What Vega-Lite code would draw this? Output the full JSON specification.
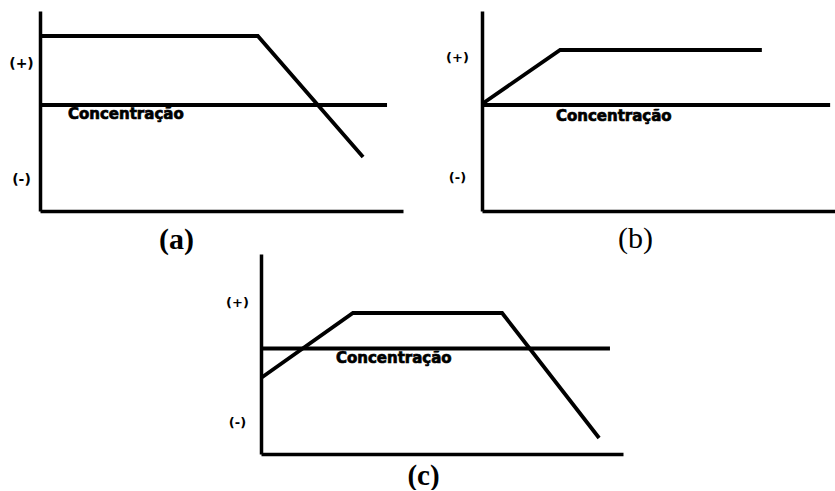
{
  "$schema": "https://vega.github.io/schema/vega-lite/v6.json",
  "background": "white",
  "padding": {"left": 8, "top": 11, "right": 0, "bottom": 0},
  "config": {"view": {"stroke": null}},
  "datasets": {
    "a": [
      {"kind": "line", "series": "curve", "i": 1, "x": 0, "y": 87.5},
      {"kind": "line", "series": "curve", "i": 2, "x": 60, "y": 87.5},
      {"kind": "line", "series": "curve", "i": 3, "x": 89, "y": 27},
      {"kind": "line", "series": "conc", "i": 1, "x": 0, "y": 53},
      {"kind": "line", "series": "conc", "i": 2, "x": 95.6, "y": 53},
      {"kind": "label", "x": 7.7, "y": 46, "text": "Concentração"}
    ],
    "b": [
      {"kind": "line", "series": "curve", "i": 1, "x": 0, "y": 53.5},
      {"kind": "line", "series": "curve", "i": 2, "x": 22.2, "y": 80.5},
      {"kind": "line", "series": "curve", "i": 3, "x": 79.5, "y": 80.5},
      {"kind": "line", "series": "conc", "i": 1, "x": 0, "y": 53},
      {"kind": "line", "series": "conc", "i": 2, "x": 98.9, "y": 53},
      {"kind": "label", "x": 21, "y": 45, "text": "Concentração"}
    ],
    "c": [
      {"kind": "line", "series": "curve", "i": 1, "x": 0, "y": 38},
      {"kind": "line", "series": "curve", "i": 2, "x": 25.4, "y": 70.5},
      {"kind": "line", "series": "curve", "i": 3, "x": 66.6, "y": 70.5},
      {"kind": "line", "series": "curve", "i": 4, "x": 93.4, "y": 8},
      {"kind": "line", "series": "conc", "i": 1, "x": 0, "y": 52.75},
      {"kind": "line", "series": "conc", "i": 2, "x": 96.4, "y": 52.75},
      {"kind": "label", "x": 20.7, "y": 45.5, "text": "Concentração"}
    ]
  },
  "vconcat": [
    {
      "hconcat": [
        {
          "width": 363, "height": 200,
          "data": {"name": "a"},
          "encoding": {
            "x": {"field": "x", "type": "quantitative", "scale": {"domain": [0, 100], "nice": false},
              "axis": {"title": "(a)", "titleFont": "Liberation Serif", "titleFontSize": 30, "titleFontWeight": "bold", "titleColor": "black", "titleX": 136, "titlePadding": 13, "labels": false, "ticks": false, "grid": false, "domainColor": "black", "domainWidth": 3.5}},
            "y": {"field": "y", "type": "quantitative", "scale": {"domain": [0, 100], "nice": false},
              "axis": {"title": null, "values": [16, 74], "labelExpr": "datum.value > 50 ? '(+)' : '(-)'", "labelAlign": "center", "labelBaseline": "middle", "labelPadding": 19, "labelFont": "DejaVu Sans", "labelFontWeight": "bold", "labelFontSize": 14, "labelColor": "black", "ticks": false, "grid": false, "domainColor": "black", "domainWidth": 3.5}}
          },
          "layer": [
            {"transform": [{"filter": "datum.kind == 'line'"}], "mark": {"type": "line", "color": "black", "strokeWidth": 3.8}, "encoding": {"detail": {"field": "series"}, "order": {"field": "i"}}},
            {"transform": [{"filter": "datum.kind == 'label'"}], "mark": {"type": "text", "align": "left", "baseline": "alphabetic", "font": "DejaVu Sans", "fontWeight": "bold", "fontSize": 15, "color": "black", "stroke": "black", "strokeWidth": 0.7}, "encoding": {"text": {"field": "text"}}}
          ]
        },
        {
          "width": 362, "height": 200,
          "data": {"name": "b"},
          "encoding": {
            "x": {"field": "x", "type": "quantitative", "scale": {"domain": [0, 102.84], "nice": false},
              "axis": {"title": "(b)", "titleFont": "Liberation Serif", "titleFontSize": 30, "titleFontWeight": "normal", "titleColor": "black", "titleX": 153, "titlePadding": 12, "labels": false, "ticks": false, "grid": false, "domainColor": "black", "domainWidth": 3.5}},
            "y": {"field": "y", "type": "quantitative", "scale": {"domain": [0, 100], "nice": false},
              "axis": {"title": null, "values": [17, 77], "labelExpr": "datum.value > 50 ? '(+)' : '(-)'", "labelAlign": "center", "labelBaseline": "middle", "labelPadding": 25, "labelFont": "DejaVu Sans", "labelFontWeight": "bold", "labelFontSize": 13, "labelColor": "black", "ticks": false, "grid": false, "domainColor": "black", "domainWidth": 3.5}}
          },
          "layer": [
            {"transform": [{"filter": "datum.kind == 'line'"}], "mark": {"type": "line", "color": "black", "strokeWidth": 3.8}, "encoding": {"detail": {"field": "series"}, "order": {"field": "i"}}},
            {"transform": [{"filter": "datum.kind == 'label'"}], "mark": {"type": "text", "align": "left", "baseline": "alphabetic", "font": "DejaVu Sans", "fontWeight": "bold", "fontSize": 15, "color": "black", "stroke": "black", "strokeWidth": 0.7}, "encoding": {"text": {"field": "text"}}}
          ]
        }
      ],
      "spacing": 42
    },
    {
      "width": 362, "height": 200,
      "data": {"name": "c"},
      "encoding": {
        "x": {"field": "x", "type": "quantitative", "scale": {"domain": [0, 100], "nice": false},
          "axis": {"title": "(c)", "titleFont": "Liberation Serif", "titleFontSize": 29, "titleFontWeight": "bold", "titleColor": "black", "titleX": 162, "titlePadding": 7, "labels": false, "ticks": false, "grid": false, "domainColor": "black", "domainWidth": 3.5}},
        "y": {"field": "y", "type": "quantitative", "scale": {"domain": [0, 100], "nice": false},
          "axis": {"title": null, "values": [16, 76], "labelExpr": "datum.value > 50 ? '(+)' : '(-)'", "labelAlign": "center", "labelBaseline": "middle", "labelPadding": 24, "labelFont": "DejaVu Sans", "labelFontWeight": "bold", "labelFontSize": 13, "labelColor": "black", "ticks": false, "grid": false, "domainColor": "black", "domainWidth": 3.5}}
      },
      "layer": [
        {"transform": [{"filter": "datum.kind == 'line'"}], "mark": {"type": "line", "color": "black", "strokeWidth": 3.8}, "encoding": {"detail": {"field": "series"}, "order": {"field": "i"}}},
        {"transform": [{"filter": "datum.kind == 'label'"}], "mark": {"type": "text", "align": "left", "baseline": "alphabetic", "font": "DejaVu Sans", "fontWeight": "bold", "fontSize": 15, "color": "black", "stroke": "black", "strokeWidth": 0.7}, "encoding": {"text": {"field": "text"}}}
      ]
    }
  ],
  "spacing": -7,
  "center": true
}
